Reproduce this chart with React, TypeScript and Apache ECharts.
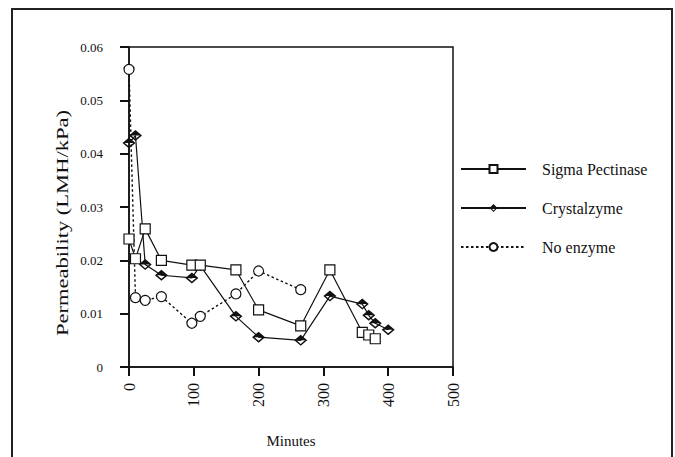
import React, { useEffect, useRef } from "react";
import * as echarts from "echarts";

const sigmaX = [0, 10, 25, 50, 97, 110, 165, 200, 265, 310, 360, 370, 380];
const sigmaY = [0.024, 0.0203, 0.0259, 0.02, 0.0191, 0.0191, 0.0182, 0.0107, 0.0077, 0.0182, 0.0065, 0.006, 0.0053];

const crystalX = [0, 10, 25, 50, 97, 110, 165, 200, 265, 310, 360, 370, 380, 400];
const crystalY = [0.042, 0.0434, 0.0192, 0.0172, 0.0167, 0.019, 0.0095, 0.0056, 0.005, 0.0133, 0.0118, 0.0097, 0.0082, 0.007];

const noEnzX = [0, 10, 25, 50, 97, 110, 165, 200, 265];
const noEnzY = [0.0558, 0.013, 0.0125, 0.0132, 0.0082, 0.0095, 0.0137, 0.018, 0.0145];

const seriesNames = ["Sigma Pectinase", "Crystalzyme", "No enzyme"];
const xTicks = [0, 100, 200, 300, 400, 500];
const yTicks = [0, 0.01, 0.02, 0.03, 0.04, 0.05, 0.06];

const FONT = "Liberation Serif";
const diamond =
  "path://M0,-10L10,0L0,10L-10,0Z M0,-6.5L-6.5,0L0,6.5L6.5,0Z M-6.5,0L0,-6.5L6.5,0Z";

const pairs = (xs: number[], ys: number[]) => xs.map((x, i) => [x, ys[i]]);

export default function App() {
  const ref = useRef<HTMLDivElement>(null);
  useEffect(() => {
    if (!ref.current) return;
    const chart = echarts.init(ref.current, undefined, { renderer: "svg" });
    chart.setOption({
      animation: false,
      backgroundColor: "#fff",
      grid: {
        left: 129,
        top: 47,
        width: 324,
        height: 320,
        show: true,
        borderColor: "#111",
        borderWidth: 1.5,
        backgroundColor: "transparent",
      },
      legend: {
        orient: "vertical",
        left: 460,
        top: 161,
        padding: 0,
        itemWidth: 65,
        itemHeight: 10,
        itemGap: 23,
        data: seriesNames,
        textStyle: {
          fontFamily: FONT,
          fontSize: 16,
          color: "#111",
          padding: [0, 0, 0, 11],
        },
      },
      xAxis: {
        type: "value",
        min: xTicks[0],
        max: xTicks[xTicks.length - 1],
        interval: 100,
        name: "Minutes",
        nameLocation: "middle",
        nameGap: 66,
        nameTextStyle: { fontFamily: FONT, fontSize: 15, color: "#111" },
        axisLine: { show: true, onZero: false, lineStyle: { color: "#111", width: 1.5 } },
        axisTick: { show: true, length: 9, lineStyle: { color: "#111", width: 2 } },
        axisLabel: {
          show: true,
          rotate: 90,
          margin: 16,
          fontFamily: FONT,
          fontSize: 16,
          color: "#111",
        },
        splitLine: { show: false },
      },
      yAxis: {
        type: "value",
        min: yTicks[0],
        max: yTicks[yTicks.length - 1],
        interval: 0.01,
        axisLine: { show: true, onZero: false, lineStyle: { color: "#111", width: 1.5 } },
        axisTick: { show: true, length: 9, lineStyle: { color: "#111", width: 2 } },
        axisLabel: {
          margin: 26,
          fontFamily: FONT,
          fontSize: 13,
          color: "#111",
          formatter: (v: number) => (v === 0 ? "0" : v.toFixed(2)),
        },
        splitLine: { show: false },
      },
      graphic: [
        {
          type: "rect",
          shape: { x: 12, y: 9, width: 660, height: 470 },
          style: { fill: "none", stroke: "#222", lineWidth: 2 },
          silent: true,
        },
        {
          type: "text",
          x: 63,
          y: 223,
          rotation: Math.PI / 2,
          scaleX: 1.41,
          style: {
            text: "Permeability (LMH/kPa)",
            font: `16px "${FONT}"`,
            fill: "#111",
            align: "center",
            verticalAlign: "middle",
          },
          silent: true,
        },
      ],
      series: [
        {
          name: seriesNames[2],
          type: "line",
          data: pairs(noEnzX, noEnzY),
          symbol: "circle",
          symbolSize: 10,
          showAllSymbol: true,
          lineStyle: { color: "#111", width: 1.4, type: [2.5, 2.5] },
          itemStyle: { color: "#fff", borderColor: "#111", borderWidth: 1.2 },
          z: 2,
        },
        {
          name: seriesNames[1],
          type: "line",
          data: pairs(crystalX, crystalY),
          symbol: diamond,
          symbolSize: [13, 11],
          symbolKeepAspect: false,
          showAllSymbol: true,
          lineStyle: { color: "#111", width: 1.2 },
          itemStyle: { color: "#111", borderWidth: 0 },
          z: 3,
        },
        {
          name: seriesNames[0],
          type: "line",
          data: pairs(sigmaX, sigmaY),
          symbol: "rect",
          symbolSize: 10,
          showAllSymbol: true,
          lineStyle: { color: "#111", width: 1.2 },
          itemStyle: { color: "#fff", borderColor: "#111", borderWidth: 1.2 },
          z: 4,
        },
      ],
    });
    return () => chart.dispose();
  }, []);
  return (
    <div
      ref={ref}
      style={{ position: "fixed", left: 0, top: 0, width: 675, height: 457, background: "#fff" }}
    />
  );
}
